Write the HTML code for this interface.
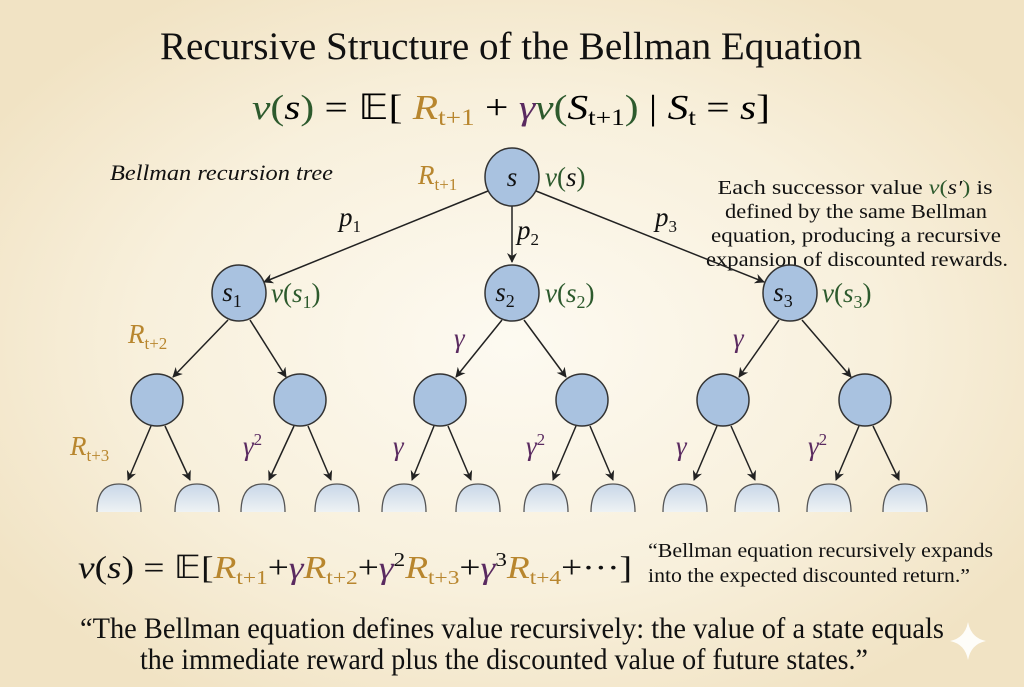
<!DOCTYPE html>
<html><head><meta charset="utf-8"><style>
html,body{margin:0;padding:0;width:1024px;height:687px;overflow:hidden}
body{background:radial-gradient(ellipse 60% 60% at 50% 50%,#fdfaf1 0%,#f8f0dc 60%,#f1e3c4 100%)}
svg{position:absolute;left:0;top:0}
text{font-family:"Liberation Serif",serif}
.m{font-style:italic}
.o{fill:#b8862e}.g{fill:#2d5a2d}.p{fill:#5a2a60}
</style></head><body>
<svg width="1024" height="687" viewBox="0 0 1024 687">
<defs>
<marker id="a" markerWidth="10" markerHeight="10" refX="9" refY="5" orient="auto" markerUnits="userSpaceOnUse"><path d="M0,0 L10,5 L0,10 L3,5z" fill="#222"/></marker>
<linearGradient id="lf" x1="0" y1="0" x2="0" y2="1"><stop offset="0" stop-color="#c8d7e8"/><stop offset="1" stop-color="#eef2f4"/></linearGradient>
</defs>
<text x="511" y="59" font-size="39" text-anchor="middle" textLength="702" lengthAdjust="spacingAndGlyphs" fill="#111">Recursive Structure of the Bellman Equation</text>
<text x="252" y="119" font-size="35" textLength="518" lengthAdjust="spacingAndGlyphs"><tspan class="m g">v</tspan><tspan class="g">(</tspan><tspan class="m">s</tspan><tspan class="g">)</tspan> = 𝔼[ <tspan class="m o">R</tspan><tspan class="o" font-size="23" dy="6">t+1</tspan><tspan dy="-6"> + </tspan><tspan class="m p">γ</tspan><tspan class="m g">v</tspan><tspan class="g">(</tspan><tspan class="m">S</tspan><tspan font-size="23" dy="6">t+1</tspan><tspan class="g" dy="-6">)</tspan> | <tspan class="m">S</tspan><tspan font-size="23" dy="6">t</tspan><tspan dy="-6"> = </tspan><tspan class="m">s</tspan>]</text>
<text x="110" y="180" font-size="22" class="m" textLength="223" lengthAdjust="spacingAndGlyphs" fill="#111">Bellman recursion tree</text>
<g font-size="20" text-anchor="middle" fill="#111">
<text x="855" y="194" textLength="275" lengthAdjust="spacingAndGlyphs">Each successor value <tspan class="m g">v</tspan><tspan class="g">(</tspan><tspan class="m">s′</tspan><tspan class="g">)</tspan> is</text>
<text x="856" y="218" textLength="262" lengthAdjust="spacingAndGlyphs">defined by the same Bellman</text>
<text x="856" y="242" textLength="290" lengthAdjust="spacingAndGlyphs">equation, producing a recursive</text>
<text x="857" y="266" textLength="302" lengthAdjust="spacingAndGlyphs">expansion of discounted rewards.</text>
</g>
<g stroke="#222" stroke-width="1.5" marker-end="url(#a)">
<line x1="488" y1="191" x2="264" y2="282"/>
<line x1="512" y1="206" x2="512" y2="262"/>
<line x1="536" y1="191" x2="764" y2="282"/>
<line x1="228" y1="320" x2="173" y2="377"/><line x1="250" y1="320" x2="286" y2="377"/>
<line x1="502" y1="320" x2="456" y2="377"/><line x1="524" y1="320" x2="566" y2="377"/>
<line x1="779" y1="320" x2="739" y2="377"/><line x1="802" y1="320" x2="851" y2="377"/>
<line x1="151" y1="426" x2="128" y2="480"/><line x1="165" y1="426" x2="190" y2="480"/>
<line x1="294" y1="426" x2="269" y2="480"/><line x1="308" y1="426" x2="331" y2="480"/>
<line x1="434" y1="426" x2="412" y2="480"/><line x1="448" y1="426" x2="471" y2="480"/>
<line x1="576" y1="426" x2="553" y2="480"/><line x1="590" y1="426" x2="613" y2="480"/>
<line x1="717" y1="426" x2="694" y2="480"/><line x1="731" y1="426" x2="755" y2="480"/>
<line x1="859" y1="426" x2="836" y2="480"/><line x1="873" y1="426" x2="899" y2="480"/>
</g>
<g fill="#a9c2e0" stroke="#333" stroke-width="1.5">
<ellipse cx="512" cy="177" rx="27" ry="29"/>
<ellipse cx="239" cy="293" rx="27" ry="28"/><ellipse cx="512" cy="293" rx="27" ry="28"/><ellipse cx="790" cy="293" rx="27" ry="28"/>
<ellipse cx="157" cy="400" rx="26" ry="26"/><ellipse cx="300" cy="400" rx="26" ry="26"/><ellipse cx="440" cy="400" rx="26" ry="26"/><ellipse cx="582" cy="400" rx="26" ry="26"/><ellipse cx="723" cy="400" rx="26" ry="26"/><ellipse cx="865" cy="400" rx="26" ry="26"/>
</g>
<g fill="url(#lf)" stroke="#555" stroke-width="1.3">
<path d="M97,512 Q97,484 119,484 Q141,484 141,512"/>
<path d="M175,512 Q175,484 197,484 Q219,484 219,512"/>
<path d="M241,512 Q241,484 263,484 Q285,484 285,512"/>
<path d="M315,512 Q315,484 337,484 Q359,484 359,512"/>
<path d="M382,512 Q382,484 404,484 Q426,484 426,512"/>
<path d="M456,512 Q456,484 478,484 Q500,484 500,512"/>
<path d="M524,512 Q524,484 546,484 Q568,484 568,512"/>
<path d="M591,512 Q591,484 613,484 Q635,484 635,512"/>
<path d="M663,512 Q663,484 685,484 Q707,484 707,512"/>
<path d="M735,512 Q735,484 757,484 Q779,484 779,512"/>
<path d="M807,512 Q807,484 829,484 Q851,484 851,512"/>
<path d="M883,512 Q883,484 905,484 Q927,484 927,512"/>
</g>
<g font-size="27" fill="#111">
<text x="512" y="186" text-anchor="middle" class="m">s</text>
<text x="232" y="301" class="m" text-anchor="middle">s<tspan font-size="18" dy="6" font-style="normal">1</tspan></text>
<text x="505" y="301" class="m" text-anchor="middle">s<tspan font-size="18" dy="6" font-style="normal">2</tspan></text>
<text x="783" y="301" class="m" text-anchor="middle">s<tspan font-size="18" dy="6" font-style="normal">3</tspan></text>
<text x="545" y="186" class="g"><tspan class="m">v</tspan>(<tspan class="m" fill="#111">s</tspan>)</text>
<text x="271" y="302" class="g"><tspan class="m">v</tspan>(<tspan class="m">s</tspan><tspan font-size="18" dy="6">1</tspan><tspan dy="-6">)</tspan></text>
<text x="545" y="302" class="g"><tspan class="m">v</tspan>(<tspan class="m">s</tspan><tspan font-size="18" dy="6">2</tspan><tspan dy="-6">)</tspan></text>
<text x="822" y="302" class="g"><tspan class="m">v</tspan>(<tspan class="m">s</tspan><tspan font-size="18" dy="6">3</tspan><tspan dy="-6">)</tspan></text>
<text x="418" y="184" class="m o">R<tspan font-size="17" dy="6" font-style="normal">t+1</tspan></text>
<text x="128" y="343" class="m o">R<tspan font-size="17" dy="6" font-style="normal">t+2</tspan></text>
<text x="70" y="455" class="m o">R<tspan font-size="17" dy="6" font-style="normal">t+3</tspan></text>
<text x="339" y="226" class="m">p<tspan font-size="17" dy="6" font-style="normal">1</tspan></text>
<text x="517" y="239" class="m">p<tspan font-size="17" dy="6" font-style="normal">2</tspan></text>
<text x="655" y="226" class="m">p<tspan font-size="17" dy="6" font-style="normal">3</tspan></text>
<text x="454" y="347" class="m p">γ</text>
<text x="733" y="347" class="m p">γ</text>
<text x="243" y="455" class="m p">γ<tspan font-size="17" dy="-10" font-style="normal">2</tspan></text>
<text x="526" y="455" class="m p">γ<tspan font-size="17" dy="-10" font-style="normal">2</tspan></text>
<text x="808" y="455" class="m p">γ<tspan font-size="17" dy="-10" font-style="normal">2</tspan></text>
<text x="393" y="455" class="m p">γ</text>
<text x="676" y="455" class="m p">γ</text>
</g>
<text x="78" y="578" font-size="32" textLength="554" lengthAdjust="spacingAndGlyphs" fill="#111"><tspan class="m">v</tspan>(<tspan class="m">s</tspan>) = 𝔼[<tspan class="m o">R</tspan><tspan class="o" font-size="20" dy="6">t+1</tspan><tspan dy="-6">+</tspan><tspan class="m p">γ</tspan><tspan class="m o">R</tspan><tspan class="o" font-size="20" dy="6">t+2</tspan><tspan dy="-6">+</tspan><tspan class="m p">γ</tspan><tspan font-size="20" dy="-12">2</tspan><tspan class="m o" dy="12">R</tspan><tspan class="o" font-size="20" dy="6">t+3</tspan><tspan dy="-6">+</tspan><tspan class="m p">γ</tspan><tspan font-size="20" dy="-12">3</tspan><tspan class="m o" dy="12">R</tspan><tspan class="o" font-size="20" dy="6">t+4</tspan><tspan dy="-6">+···]</tspan></text>
<text x="648" y="557" font-size="20" textLength="345" lengthAdjust="spacingAndGlyphs" fill="#111">“Bellman equation recursively expands</text>
<text x="648" y="582" font-size="20" textLength="322" lengthAdjust="spacingAndGlyphs" fill="#111">into the expected discounted return.”</text>
<text x="80" y="638" font-size="30" textLength="864" lengthAdjust="spacingAndGlyphs" fill="#111">“The Bellman equation defines value recursively: the value of a state equals</text>
<text x="140" y="669" font-size="30" textLength="728" lengthAdjust="spacingAndGlyphs" fill="#111">the immediate reward plus the discounted value of future states.”</text>
<path d="M968,622 Q971,638 986,641 Q971,644 968,660 Q965,644 950,641 Q965,638 968,622z" fill="#fff" opacity="0.9"/>
</svg>
</body></html>
